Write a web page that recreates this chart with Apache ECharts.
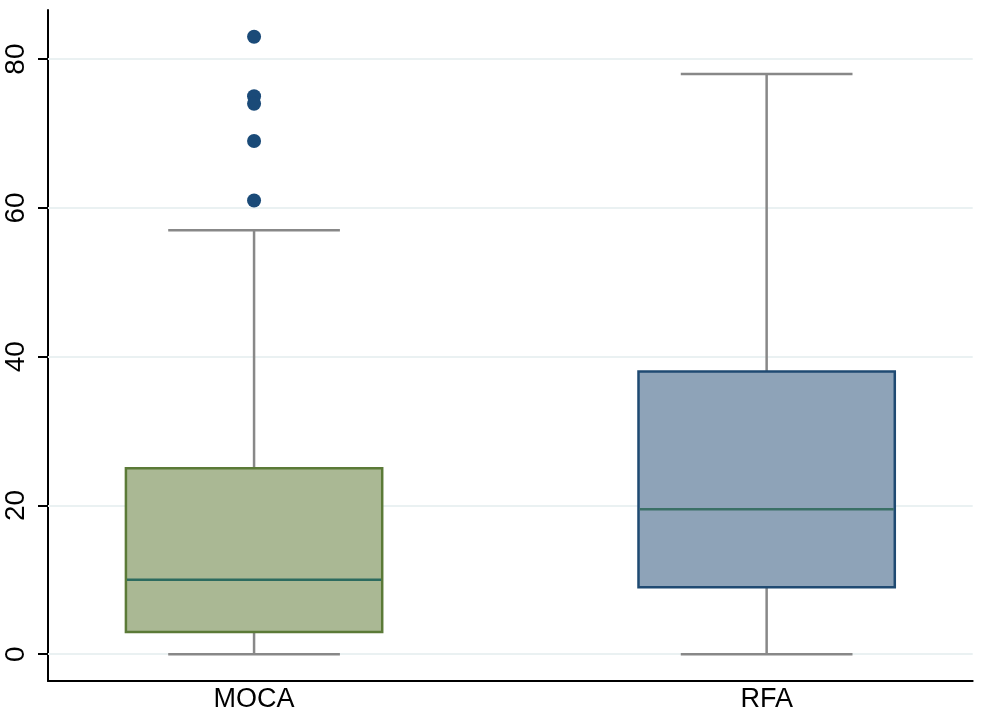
<!DOCTYPE html>
<html>
<head>
<meta charset="utf-8">
<title>MOCA vs RFA</title>
<script src="https://cdn.jsdelivr.net/npm/echarts@6/dist/echarts.min.js"></script>
<style>
  html, body { margin: 0; padding: 0; background: #ffffff; }
  #chart { width: 981px; height: 719px; }
</style>
</head>
<body>
<div id="chart"></div>
<script>
// Groups shown along the horizontal axis
const categories = ['MOCA', 'RFA'];

// Five-number summaries per group (lower whisker, Q1, median, Q3, upper whisker)
const lowerWhisker = [0, 0];
const quartile1 = [3, 9];
const medians = [10, 19.5];
const quartile3 = [25, 38];
const upperWhisker = [57, 78];

// Outside values, per group
const outliers = [
  [83, 75, 74, 69, 61],
  []
];

// Value-axis ticks
const yTicks = [0, 20, 40, 60, 80];

// Box appearance per group
const boxFill = ['#aab894', '#8ea3b8'];
const boxEdge = ['#5b7a37', '#1f4a72'];
const medianColor = ['#2c6b5f', '#3a7066'];

const boxWidth = 0.5;   // in x-axis units
const capWidth = 0.335; // in x-axis units

const boxData = categories.map((c, i) => [
  i + 1, lowerWhisker[i], quartile1[i], medians[i], quartile3[i], upperWhisker[i]
]);

const outlierData = [];
outliers.forEach((vals, i) => vals.forEach(v => outlierData.push([i + 1, v])));

function renderBox(params, api) {
  const i = params.dataIndex;
  const x = api.value(0);
  const pLo = api.coord([x, api.value(1)]);
  const pQ1 = api.coord([x, api.value(2)]);
  const pMed = api.coord([x, api.value(3)]);
  const pQ3 = api.coord([x, api.value(4)]);
  const pHi = api.coord([x, api.value(5)]);
  const halfBox = api.size([boxWidth, 0])[0] / 2;
  const halfCap = api.size([capWidth, 0])[0] / 2;
  const cx = pLo[0];
  const whisker = { stroke: '#888888', lineWidth: 2.5 };
  return {
    type: 'group',
    children: [
      { type: 'line', shape: { x1: cx, y1: pQ3[1], x2: cx, y2: pHi[1] }, style: whisker },
      { type: 'line', shape: { x1: cx, y1: pQ1[1], x2: cx, y2: pLo[1] }, style: whisker },
      { type: 'line', shape: { x1: cx - halfCap, y1: pHi[1], x2: cx + halfCap, y2: pHi[1] }, style: whisker },
      { type: 'line', shape: { x1: cx - halfCap, y1: pLo[1], x2: cx + halfCap, y2: pLo[1] }, style: whisker },
      {
        type: 'rect',
        shape: { x: cx - halfBox, y: pQ3[1], width: halfBox * 2, height: pQ1[1] - pQ3[1] },
        style: { fill: boxFill[i], stroke: boxEdge[i], lineWidth: 2.5 }
      },
      {
        type: 'line',
        shape: { x1: cx - halfBox + 1, y1: pMed[1], x2: cx + halfBox - 1, y2: pMed[1] },
        style: { stroke: medianColor[i], lineWidth: 2.5 }
      }
    ]
  };
}

const chart = echarts.init(document.getElementById('chart'), null, { renderer: 'canvas' });

chart.setOption({
  animation: false,
  backgroundColor: '#ffffff',
  grid: { left: 48, right: 8.3, top: 10, bottom: 38, containLabel: false },
  xAxis: {
    type: 'value',
    min: 0.598,
    max: 2.402,
    axisLine: { show: true, onZero: false, lineStyle: { color: '#000000', width: 2 } },
    axisTick: { show: false },
    splitLine: { show: false },
    axisLabel: {
      customValues: categories.map((c, i) => i + 1),
      formatter: v => categories[Math.round(v) - 1] || '',
      color: '#000000',
      fontFamily: 'Liberation Sans, Arial, sans-serif',
      fontSize: 27,
      margin: 5
    }
  },
  yAxis: {
    type: 'value',
    min: -3.6,
    max: 86.6,
    axisLine: { show: true, onZero: false, lineStyle: { color: '#000000', width: 2 } },
    axisTick: {
      show: true,
      customValues: yTicks,
      length: 10,
      lineStyle: { color: '#000000', width: 2 }
    },
    splitLine: { show: false },
    axisLabel: {
      customValues: yTicks,
      rotate: 90,
      color: '#000000',
      fontFamily: 'Liberation Sans, Arial, sans-serif',
      fontSize: 28,
      margin: 18
    }
  },
  series: [
    {
      type: 'custom',
      name: 'box',
      renderItem: renderBox,
      encode: { x: 0, y: [1, 2, 3, 4, 5] },
      data: boxData,
      z: 3,
      markLine: {
        silent: true,
        symbol: 'none',
        label: { show: false },
        lineStyle: { color: '#eaf1f2', width: 2, type: 'solid' },
        data: yTicks.map(v => ({ yAxis: v })),
        z: 1
      }
    },
    {
      type: 'scatter',
      name: 'outliers',
      data: outlierData,
      symbol: 'circle',
      symbolSize: 14,
      itemStyle: { color: '#1a4a78', opacity: 1 },
      z: 4
    }
  ]
});
</script>
</body>
</html>
